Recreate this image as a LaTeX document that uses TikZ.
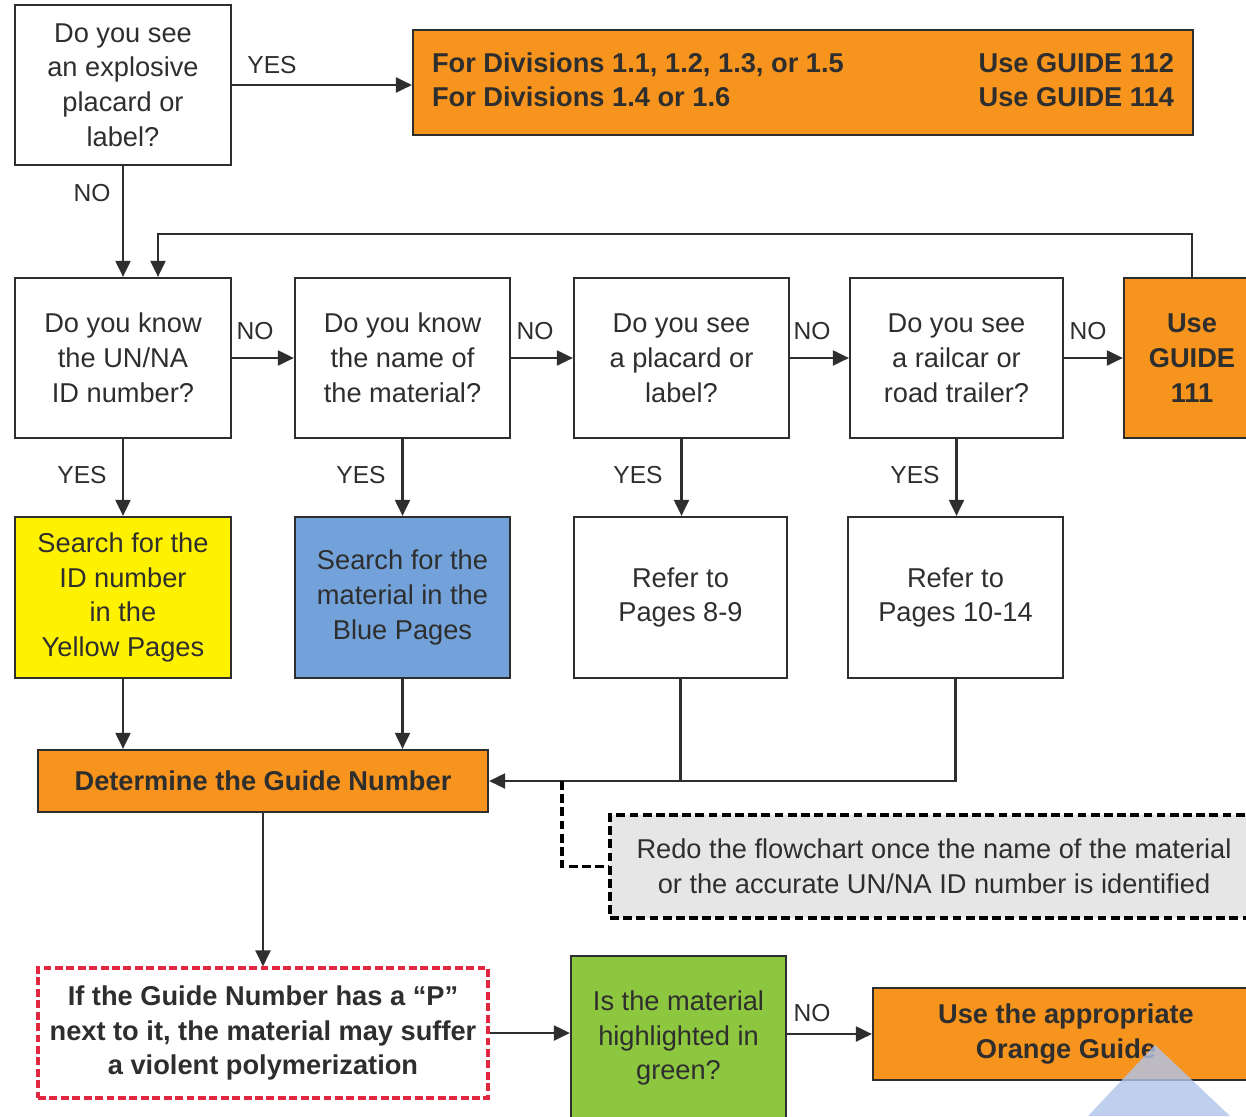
\documentclass[tikz,border=0pt]{standalone}
\usepackage{fontspec}
\setmainfont{Liberation Sans}
\usepackage{xcolor}
\usetikzlibrary{arrows.meta}

\definecolor{ink}{HTML}{2E2E2E}
\definecolor{guideorange}{HTML}{F7941D}
\definecolor{pageyellow}{HTML}{FFF200}
\definecolor{pageblue}{HTML}{72A2D9}
\definecolor{hlgreen}{HTML}{8DC63F}
\definecolor{notegray}{HTML}{E6E6E6}
\definecolor{polyred}{HTML}{E3263F}
\definecolor{markblue}{HTML}{AFC4EA}

\begin{document}
\begin{tikzpicture}[x=0.02cm,y=-0.02cm,
	every node/.style={text=ink},
	qbox/.style={draw=ink,line width=1.3pt,inner sep=0pt,align=center,
		minimum width=4.3cm,minimum height=3.2cm,font=\fontsize{15.5}{19.8}\selectfont},
	gbox/.style={qbox,fill=guideorange,font=\fontsize{15.5}{19.8}\selectfont\bfseries},
	notebox/.style={qbox,draw=black,fill=notegray,line width=2pt,dash pattern=on 5pt off 2.5pt},
	polybox/.style={qbox,draw=polyred,line width=1.8pt,dash pattern=on 4.5pt off 2pt,
		font=\fontsize{15.5}{19.8}\selectfont\bfseries},
	arr/.style={draw=ink,line width=1.2pt,-{Triangle[length=0.32cm,width=0.3cm]}},
	wire/.style={draw=ink,line width=1.2pt},
	lbl/.style={font=\fontsize{14}{16}\selectfont}]
	\useasboundingbox (0,0) rectangle (1246,1116);

	% top question
	\node[qbox,minimum width=4.32cm] (expl) at (123,85) {Do you see\\an explosive\\placard or\\label?};
	\node[gbox,minimum width=15.6cm,minimum height=2.1cm] (divs) at (803,82.5)
		{\begin{tabular*}{14.84cm}{@{}l@{\extracolsep{\fill}}r@{}}
			For Divisions 1.1, 1.2, 1.3, or 1.5 & Use GUIDE 112\\
			For Divisions 1.4 or 1.6 & Use GUIDE 114
		\end{tabular*}};

	% second row
	\node[qbox,minimum width=4.32cm] (unna) at (123,358) {Do you know\\the UN/NA\\ID number?};
	\node[qbox] (name) at (402.5,358) {Do you know\\the name of\\the material?};
	\node[qbox] (plac) at (681.5,358) {Do you see\\a placard or\\label?};
	\node[qbox,minimum width=4.26cm] (rail) at (956.5,358) {Do you see\\a railcar or\\road trailer?};
	\node[gbox,minimum width=2.72cm] (g111) at (1192,358) {Use\\GUIDE\\111};

	% third row
	\node[qbox,minimum width=4.32cm,minimum height=3.22cm,fill=pageyellow] (yell) at (123,597.5)
		{Search for the\\ID number\\in the\\Yellow Pages};
	\node[qbox,minimum height=3.22cm,fill=pageblue] (bluepg) at (402.5,597.5)
		{Search for the\\material in the\\Blue Pages};
	\node[qbox,minimum width=4.26cm,minimum height=3.22cm] (ref89) at (680.5,597.5) {Refer to\\Pages 8-9};
	\node[qbox,minimum height=3.22cm] (ref1014) at (955.5,597.5) {Refer to\\Pages 10-14};

	% bottom part
	\node[gbox,minimum width=9cm,minimum height=1.24cm] (det) at (263,781) {Determine the Guide Number};
	\node[notebox,minimum width=12.96cm,minimum height=2.06cm] (redo) at (934,866.5)
		{Redo the flowchart once the name of the material\\or the accurate UN/NA ID number is identified};
	\node[polybox,minimum width=9cm,minimum height=2.6cm] (poly) at (263,1033)
		{If the Guide Number has a “P”\\next to it, the material may suffer\\a violent polymerization};
	\node[qbox,minimum height=3.28cm,fill=hlgreen] (green) at (678.5,1038)
		{Is the material\\highlighted in\\green?};
	\node[gbox,minimum width=7.72cm,minimum height=1.84cm] (orng) at (1066,1034)
		{Use the appropriate\\Orange Guide};

	% connectors
	\draw[arr] (expl.east) -- (expl.east -| divs.west);
	\draw[arr] (expl.south) -- (unna.north);
	\coordinate (loop) at (158,234);
	\draw[arr] (g111.north) |- (loop) -- (loop |- unna.north);
	\draw[arr] (unna.east) -- (name.west);
	\draw[arr] (name.east) -- (plac.west);
	\draw[arr] (plac.east) -- (rail.west);
	\draw[arr] (rail.east) -- (g111.west);
	\draw[arr] (unna.south) -- (yell.north);
	\draw[arr] (name.south) -- (bluepg.north);
	\draw[arr] (plac.south) -- (plac.south |- ref89.north);
	\draw[arr] (rail.south) -- (rail.south |- ref1014.north);
	\draw[arr] (yell.south) -- (yell.south |- det.north);
	\draw[arr] (bluepg.south) -- (bluepg.south |- det.north);
	\draw[arr] (ref1014.south) |- (det.east);
	\draw[wire] (ref89.south) -- (ref89.south |- det.east);
	\coordinate (split) at (562,781);
	\draw[black,line width=2pt,dash pattern=on 5pt off 2.5pt] (split) |- (redo.west);
	\draw[arr] (det.south) -- (poly.north);
	\draw[arr] (poly.east) -- (poly.east -| green.west);
	\draw[arr] (orng.west -| green.east) -- (orng.west);

	% labels
	\node[lbl] (yes0) at (272,65) {YES};
	\node[lbl] (no0) at (92,193) {NO};
	\node[lbl] (no1) at (255,331) {NO};
	\node[lbl] (no2) at (535,331) {NO};
	\node[lbl] (no3) at (812,331) {NO};
	\node[lbl] (no4) at (1088,331) {NO};
	\node[lbl] (yes1) at (82,475) {YES};
	\node[lbl] (yes2) at (361,475) {YES};
	\node[lbl] (yes3) at (638,475) {YES};
	\node[lbl] (yes4) at (915,475) {YES};
	\node[lbl] (no5) at (812,1013) {NO};

	% corner mark
	\fill[markblue,opacity=0.8] (1155,1045) -- (1230,1116) -- (1088,1116) -- cycle;
\end{tikzpicture}
\end{document}
